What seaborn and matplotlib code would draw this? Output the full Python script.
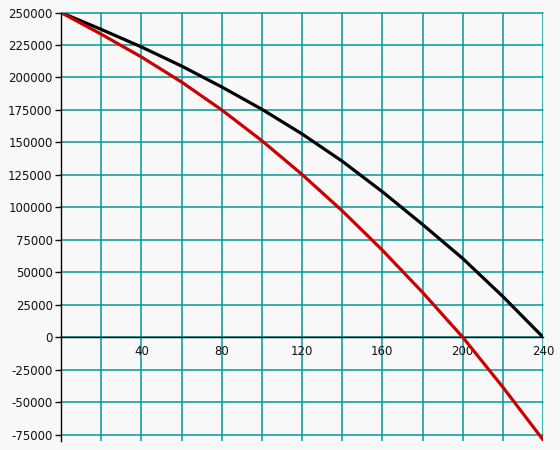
import numpy as np
import pandas as pd
import matplotlib
matplotlib.use("Agg")
import matplotlib.pyplot as plt
import seaborn as sns
from matplotlib.ticker import FuncFormatter

# months and remaining balance
months = [0, 20, 40, 60, 80, 100, 120, 140, 160, 180, 200, 220, 240]
balance_black = [250000, 237000, 223500, 208800, 192700, 175500, 156500,
                 135500, 112000, 86800, 60600, 31300, 0]
balance_red = [250000, 233300, 215800, 196500, 175000, 151300, 125300,
               97300, 67000, 34500, 0, -38500, -79000]
series_names = ["black", "red"]
series_colors = ["#000000", "#cc0000"]

x_ticks = list(range(0, 241, 20))
y_ticks = list(range(-75000, 250001, 25000))

df = pd.DataFrame({
    "month": months * 2,
    "balance": balance_black + balance_red,
    "series": [series_names[0]] * len(months) + [series_names[1]] * len(months),
})

sns.set_style("white", {"axes.facecolor": "#f8f8f8"})
plt.rcParams["font.family"] = ["DejaVu Sans"]
plt.rcParams["axes.unicode_minus"] = False

fig = plt.figure(figsize=(5.6, 4.5), dpi=100, facecolor="#f8f8f8")
# axes box: x 61..543 px, y 12.5..441 px from top
ax = fig.add_axes([61 / 560, 9 / 450, 482 / 560, 428.5 / 450])
ax.set_facecolor("#f8f8f8")

sns.lineplot(data=df, x="month", y="balance", hue="series",
             hue_order=series_names, palette=series_colors,
             linewidth=2.3, legend=False, ax=ax, zorder=3)

ax.set_xlim(0, 240)
ax.set_ylim(-80000, 250000)
ax.set_xticks(x_ticks)
ax.set_yticks(y_ticks)
ax.xaxis.set_major_formatter(FuncFormatter(
    lambda v, p: str(int(v)) if v > 0 and int(v) % 40 == 0 else ""))
ax.yaxis.set_major_formatter(FuncFormatter(lambda v, p: str(int(v))))

ax.grid(True, color="#009999", linewidth=1.1)
for gl in ax.get_xgridlines() + ax.get_ygridlines():
    gl.set_clip_on(False)

ax.spines["top"].set_visible(False)
ax.spines["right"].set_visible(False)
ax.spines["left"].set_color("black")
ax.spines["left"].set_linewidth(1.0)
ax.spines["left"].set_zorder(4)
ax.spines["bottom"].set_position(("data", 0))
ax.spines["bottom"].set_color("black")
ax.spines["bottom"].set_linewidth(1.0)
ax.spines["bottom"].set_zorder(2.5)

ax.tick_params(axis="x", length=0, pad=6, labelsize=8.5, colors="#111111")
ax.tick_params(axis="y", length=4.5, width=1, pad=1.5, labelsize=8.5,
               colors="#111111", direction="out", left=True)
ax.set_xlabel("")
ax.set_ylabel("")

fig.savefig("out.png", dpi=100, facecolor="#f8f8f8")
